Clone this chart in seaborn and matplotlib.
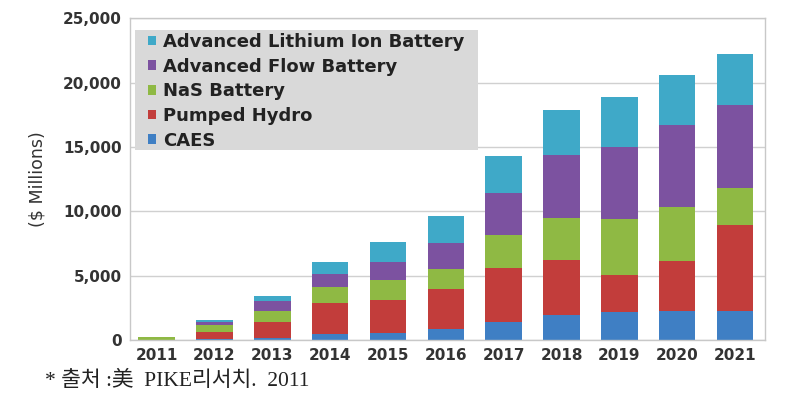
import numpy as np
import pandas as pd
import matplotlib
matplotlib.use('Agg')
import matplotlib.pyplot as plt
from matplotlib.patches import Rectangle
import seaborn as sns

# datos ($ Millions)
years = ['2011', '2012', '2013', '2014', '2015', '2016', '2017', '2018', '2019', '2020', '2021']
caes = [0.0, 50, 150, 500, 550, 850, 1400, 1950, 2200, 2300, 2300]
pumped_hydro = [20, 550, 1250, 2400, 2550, 3100, 4200, 4300, 2850, 3850, 6650]
nas_battery = [200, 550, 900, 1250, 1600, 1600, 2550, 3250, 4350, 4150, 2900]
flow_battery = [20, 250, 700, 1000, 1400, 2000, 3300, 4900, 5600, 6400, 6400]
lithium_ion = [20, 150, 450, 900, 1500, 2100, 2850, 3500, 3850, 3900, 3950]

series_names = ['CAES', 'Pumped Hydro', 'NaS Battery', 'Advanced Flow Battery',
                'Advanced Lithium Ion Battery']
series_values = [caes, pumped_hydro, nas_battery, flow_battery, lithium_ion]
colores = ['#3f7fc4', '#c23d3b', '#8fb944', '#7c52a0', '#3fa9c8']

y_ticks = [0, 5000, 10000, 15000, 20000, 25000]
caption = '* 출처 :美  PIKE리서치.  2011'

sns.set_theme(style='white')
plt.rcParams['font.family'] = ['DejaVu Sans', 'Noto Sans CJK KR']

fig = plt.figure(figsize=(7.88, 4.03), dpi=100)
ax = fig.add_axes([0.165, 0.156, 0.806, 0.799])

base = np.zeros(len(years))
for nombre, valores, color in zip(series_names, series_values, colores):
    df = pd.DataFrame({'year': years, 'value': valores})
    sns.barplot(data=df, x='year', y='value', color=color, bottom=base,
                width=0.63, label=nombre, ax=ax, linewidth=0, saturation=1)
    base = base + np.array(valores, dtype=float)

ax.set_ylim(0, 25000)
ax.set_xlim(-0.46, 10.52)
ax.set_yticks(y_ticks)
ax.set_yticklabels([f'{v:,}' for v in y_ticks], fontsize=11, fontweight='bold', color='#333333')
ax.set_xticks(range(len(years)))
ax.set_xticklabels(years, fontsize=11, fontweight='bold', color='#333333')
ax.tick_params(axis='both', length=0, pad=6)
ax.set_xlabel('')
ax.set_ylabel('($ Millions)', fontsize=12.5, color='#333333', labelpad=12)
ax.yaxis.grid(True, color='#d0d0d0', linewidth=1)
ax.set_axisbelow(True)
for s in ax.spines.values():
    s.set_color('#c8c8c8')
    s.set_linewidth(1)

# fondo gris de la leyenda
ax.add_patch(Rectangle((0.008, 0.59), 0.54, 0.373, transform=ax.transAxes,
                       facecolor='#d9d9d9', edgecolor='none', zorder=3))

# leyenda en el orden del original (arriba -> abajo)
handles, labels = ax.get_legend_handles_labels()
leg = ax.legend(handles[::-1], labels[::-1], loc='upper left', bbox_to_anchor=(0.028, 0.954),
                borderaxespad=0, frameon=False, handlelength=0.45, handleheight=0.45,
                handletextpad=0.38, labelspacing=0.37, borderpad=0,
                prop={'size': 13, 'weight': 'bold'})
leg.set_zorder(4)
for t in leg.get_texts():
    t.set_color('#222222')

fig.text(0.057, 0.055, caption, fontsize=15.5, color='#222222', va='center',
         family=['Liberation Serif', 'Noto Sans CJK KR'])

fig.savefig('out.png', dpi=100)
